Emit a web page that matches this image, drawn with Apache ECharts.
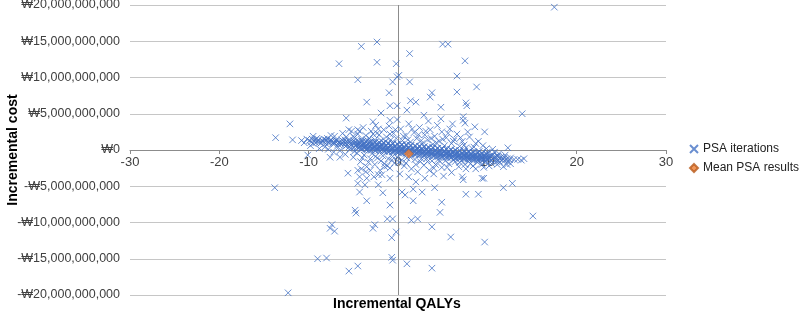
<!DOCTYPE html>
<html>
<head>
<meta charset="utf-8">
<script src="https://cdn.jsdelivr.net/npm/echarts@6/dist/echarts.min.js"></script>
<style>
html,body{margin:0;padding:0;background:#fff;}
#chart{width:800px;height:312px;}
</style>
</head>
<body>
<div id="chart"></div>
<script>
// Values: [incremental QALYs, incremental cost in billions of won]
var seriesNames = ['PSA iterations', 'Mean PSA results'];
var xTicks = [-30, -20, -10, 0, 10, 20, 30];
var yTicksBillion = [-20, -15, -10, -5, 0, 5, 10, 15, 20];

var outliersTop = [
  [-4.1,14.3],[-2.35,14.9],[-6.6,11.9],[-2.35,12.1],[-0.2,11.9],[-4.5,9.7],[-0.6,9.4],[-0.1,10.1],
  [-1.0,7.9],[-3.5,6.6],[-0.9,6.1],[-0.1,6.1],[-1.9,5.1],[-5.8,4.4],[-12.1,3.6],[-13.7,1.7],
  [-11.8,1.4],[-5.5,2.8],[-4.5,2.8],[-2.8,3.9],[-0.9,4.1],[-2.35,2.3],[-7.1,1.9],
  [17.5,19.7],[5.0,14.6],[5.6,14.6],[1.3,13.3],[7.5,12.3],[0.1,10.3],[1.3,9.4],[6.6,10.2],
  [6.6,8.0],[8.8,8.7],[3.8,7.9],[3.6,7.3],[7.6,6.5],[7.7,6.1],[1.4,6.8],[2.0,6.6],[4.8,5.9],
  [13.9,5.0],[7.3,4.6],[7.3,4.1],[7.5,3.7],[8.6,3.2],[9.7,2.5],[12.3,0.3]
];
var outliersBottom = [
  [-13.8,-5.2],[-5.6,-3.2],[-3.5,-7.0],[-4.8,-8.3],[-4.7,-8.7],[-0.9,-7.6],[-7.4,-10.3],
  [-7.6,-10.8],[-7.1,-11.2],[-2.6,-10.3],[-2.8,-10.8],[-1.2,-9.5],[-0.6,-9.5],[-0.2,-11.3],
  [-0.7,-12.1],[-9.0,-15.0],[-8.0,-14.9],[-5.5,-16.7],[-4.5,-16.0],[-0.7,-14.8],[-0.6,-15.2],
  [-12.3,-19.7],
  [0.45,-5.8],[0.8,-6.2],[1.7,-5.4],[1.7,-7.0],[2.7,-5.8],[4.1,-5.2],[4.9,-7.2],[4.7,-8.6],
  [1.5,-9.7],[2.2,-9.5],[3.8,-10.6],[5.9,-12.0],[9.7,-12.7],[7.6,-6.1],[9.0,-6.1],[11.8,-5.2],
  [12.8,-4.6],[15.1,-9.1],[1.0,-15.7],[3.8,-16.3],[9.4,-3.9],[9.6,-3.9],[7.2,-3.7],[7.3,-4.1],
  [-4.5,-2.8],[-3.1,-2.8],[-4.3,-3.7],[-3.5,-3.9],[-4.5,-4.6],[-3.7,-4.8],[-4.3,-5.8],
  [-2.2,-4.8],[-1.7,-5.9],[-0.9,-3.9],[-2.2,-3.4],[-1.5,-2.3],[-7.6,-1.0],[-10.1,-0.7],[-6.5,-1.0]
];
var bandCore = [
  [-10.8,1.3],[-10.2,1.5],[-9.7,1.1],[-9.3,1.4],[-9.0,1.2],[-8.6,1.0],[-8.3,1.5],[-8.0,1.3],
  [-7.7,1.1],[-7.4,1.2],[-7.1,0.9],[-6.9,1.4],[-6.6,1.1],[-6.4,0.8],[-6.1,1.2],[-5.9,1.0],
  [-5.7,0.7],[-5.5,1.3],[-5.3,0.9],[-5.1,1.1],
  [-4.8,1.1],[-4.7,0.7],[-4.6,0.4],[-4.3,1.0],[-4.2,0.6],[-4.4,0.3],[-3.8,0.9],[-3.9,0.6],[-3.7,0.3],
  [-3.3,1.0],[-3.2,0.6],[-3.4,0.2],[-2.8,0.9],[-2.7,0.5],[-2.9,0.2],[-2.3,0.8],[-2.2,0.5],[-2.4,0.1],
  [-1.8,0.8],[-1.9,0.4],[-1.7,0.1],[-1.3,0.7],[-1.2,0.3],[-1.4,0.0],[-0.8,0.7],[-0.7,0.3],[-0.9,-0.1],
  [-0.3,0.6],[-0.2,0.2],[-0.4,-0.1],[0.2,0.5],[0.3,0.1],[0.1,-0.2],[0.7,0.5],[0.6,0.1],[0.8,-0.3],
  [1.2,0.4],[1.3,0.0],[1.1,-0.3],[1.7,0.3],[1.8,-0.1],[1.6,-0.4],[2.2,0.3],[2.3,-0.1],[2.1,-0.4],
  [2.7,0.2],[2.6,-0.2],[2.8,-0.5],[3.2,0.2],[3.3,-0.2],[3.1,-0.5],[3.7,0.1],[3.6,-0.3],[3.8,-0.6],
  [4.2,0.0],[4.3,-0.3],[4.1,-0.7],[4.7,0.0],[4.6,-0.4],[4.8,-0.7],[5.2,-0.1],[5.3,-0.4],[5.1,-0.8],
  [5.7,-0.2],[5.6,-0.5],[5.8,-0.8],[6.2,-0.2],[6.3,-0.6],[6.1,-0.9],[6.7,-0.3],[6.6,-0.6],[6.8,-0.9],
  [7.2,-0.4],[7.3,-0.7],[7.1,-1.0],[7.7,-0.4],[7.6,-0.8],[7.8,-1.1],[8.2,-0.5],[8.3,-0.8],[8.1,-1.1],
  [8.7,-0.6],[8.6,-0.9],[8.8,-1.2],[9.2,-0.6],[9.3,-0.9],[9.1,-1.2],[9.7,-0.7],[9.8,-1.0],[9.6,-1.3],
  [10.3,-0.8],[10.2,-1.1],[10.4,-1.4],[10.9,-0.9],[11.0,-1.3],[11.5,-1.0],[11.6,-1.4],
  [12.2,-1.2],[12.3,-1.6],[13.0,-1.3],[13.4,-1.3],[13.8,-1.4],[14.1,-1.2]
];
var bandCore2 = [
  [-10.5,1.0],[-9.9,1.3],[-9.5,0.9],[-9.1,1.6],[-8.8,1.1],[-8.5,1.3],[-8.1,0.9],[-7.9,1.6],
  [-7.5,1.4],[-7.3,0.9],[-7.0,1.2],[-6.7,0.8],[-6.3,1.4],[-6.0,0.7],
  [-5.95,1.4],[-5.85,0.5],[-5.45,0.45],[-5.6,1.0],[-4.95,1.3],[-5.0,0.3],[-4.45,1.25],[-4.55,0.9],
  [-3.95,1.2],[-4.05,0.1],[-3.55,1.1],[-3.6,0.45],[-3.5,0.0],[-3.05,1.1],[-3.1,0.4],[-3.0,-0.05],
  [-2.55,1.05],[-2.6,0.35],[-2.5,-0.1],[-2.05,1.0],[-2.1,0.3],[-2.0,-0.15],[-1.55,0.95],[-1.6,0.25],
  [-1.5,-0.2],[-1.05,0.9],[-1.1,0.15],[-1.0,-0.25],[-0.55,0.85],[-0.6,0.1],[-0.5,-0.3],
  [-0.05,0.8],[0.0,0.05],[0.05,-0.35],[0.45,0.7],[0.4,-0.05],[0.5,-0.45],[0.95,0.65],[0.9,-0.1],
  [1.0,-0.5],[1.45,0.6],[1.4,-0.15],[1.5,-0.55],[1.95,0.55],[1.9,-0.25],[2.0,-0.6],[2.45,0.5],
  [2.4,-0.3],[2.5,-0.65],[2.95,0.45],[2.9,-0.35],[3.0,-0.7],[3.45,0.35],[3.4,-0.4],[3.5,-0.75],
  [3.95,0.3],[3.9,-0.45],[4.0,-0.85],[4.45,0.25],[4.4,-0.5],[4.5,-0.9],[4.95,0.2],[4.9,-0.55],
  [5.0,-0.95],[5.45,0.1],[5.4,-0.6],[5.5,-1.0],[5.95,0.05],[5.9,-0.7],[6.0,-1.05],[6.45,0.0],
  [6.4,-0.75],[6.5,-1.1],[6.95,-0.1],[6.9,-0.8],[7.0,-1.15],[7.45,-0.15],[7.4,-0.85],[7.5,-1.2],
  [7.95,-0.2],[7.9,-0.95],[8.0,-1.25],[8.45,-0.3],[8.4,-1.0],[8.5,-1.3],[8.95,-0.35],[8.9,-1.05],
  [9.0,-1.4],[9.45,-0.45],[9.4,-1.1],[9.5,-1.45],[9.95,-0.55],[10.0,-1.2],[10.6,-0.7],[10.65,-1.25],
  [11.2,-0.85],[11.25,-1.5],[11.9,-1.0],[11.95,-1.45],[12.6,-1.1]
];
var bandCore3 = [
  [-9.6,1.5],[-9.2,1.0],[-8.9,1.4],[-8.4,1.2],[-8.1,1.4],[-7.8,1.0],[-7.6,1.3],[-7.2,1.1],
  [-6.8,1.2],[-6.5,1.0],[-6.2,0.9],[-5.8,1.2],[-5.4,1.1],[-5.2,0.7],
  [-4.85,0.95],[-4.75,0.55],[-4.35,0.85],[-4.25,0.45],[-3.85,0.8],[-3.75,0.45],[-3.35,0.8],[-3.25,0.4],
  [-2.85,0.7],[-2.75,0.35],[-2.35,0.65],[-2.25,0.3],[-1.85,0.6],[-1.75,0.25],[-1.35,0.55],[-1.25,0.15],
  [-0.85,0.5],[-0.75,0.1],[-0.35,0.45],[-0.25,0.0],[0.15,0.35],[0.25,-0.05],[0.65,0.3],[0.75,-0.1],
  [1.15,0.25],[1.25,-0.15],[1.65,0.15],[1.75,-0.2],[2.15,0.1],[2.25,-0.25],[2.65,0.05],[2.75,-0.3],
  [3.15,0.0],[3.25,-0.35],[3.65,-0.1],[3.75,-0.4],[4.15,-0.15],[4.25,-0.5],[4.65,-0.2],[4.75,-0.55],
  [5.15,-0.25],[5.25,-0.6],[5.65,-0.35],[5.75,-0.65],[6.15,-0.4],[6.25,-0.7],[6.65,-0.45],[6.75,-0.75],
  [7.15,-0.5],[7.25,-0.85],[7.65,-0.6],[7.75,-0.9],[8.15,-0.65],[8.25,-0.95],[8.65,-0.7],[8.75,-1.0],
  [9.15,-0.75],[9.25,-1.05],[9.65,-0.85],[9.75,-1.1],[10.15,-0.9],[10.25,-1.2],[10.75,-1.05],
  [11.35,-1.15],[11.8,-1.25],[12.5,-1.35]
];
var bandCore4 = [
  [-4.1,1.25],[-4.15,0.2],[-3.6,1.2],[-3.65,0.1],[-3.1,1.15],[-3.15,0.05],[-2.6,1.1],[-2.65,0.0],
  [-2.1,1.05],[-2.15,-0.05],[-1.6,1.0],[-1.65,-0.1],[-1.1,0.95],[-1.15,-0.2],[-0.6,0.9],[-0.65,-0.25],
  [-0.1,0.85],[-0.15,-0.3],[0.4,0.75],[0.35,-0.4],[0.9,0.7],[0.85,-0.45],[1.4,0.65],[1.35,-0.5],
  [1.9,0.6],[1.85,-0.6],[2.4,0.5],[2.35,-0.65],[2.9,0.45],[2.85,-0.7],[3.4,0.4],[3.35,-0.75],
  [3.9,0.3],[3.85,-0.8],[4.4,0.25],[4.35,-0.9],[4.9,0.15],[4.85,-0.95],[5.4,0.1],[5.35,-1.0],
  [5.9,0.05],[5.85,-1.05],[6.4,-0.05],[6.35,-1.1],[6.9,-0.1],[6.85,-1.15],[7.4,-0.2],[7.35,-1.2],
  [7.9,-0.25],[7.85,-1.25],[8.4,-0.35],[8.35,-1.3],[8.9,-0.4],[8.85,-1.35],[9.4,-0.5],[9.35,-1.4],
  [9.9,-0.6],[9.85,-1.45],[10.5,-0.75],[10.45,-1.5],[11.1,-0.85],[11.05,-1.6],
  [-4.1,0.7],[-3.6,0.65],[-3.1,0.55],[-2.6,0.5],[-2.1,0.45],[-1.6,0.4],[-1.1,0.35],[-0.6,0.25],
  [-0.1,0.2],[0.4,0.15],[0.9,0.1],[1.4,0.0],[1.9,-0.05],[2.4,-0.1],[2.9,-0.15],[3.4,-0.2],
  [3.9,-0.3],[4.4,-0.35],[4.9,-0.4],[5.4,-0.45],[5.9,-0.5],[6.4,-0.55],[6.9,-0.65],[7.4,-0.7],
  [7.9,-0.75],[8.4,-0.8],[8.9,-0.85],[9.4,-0.95],[9.9,-1.0]
];
var scatterAbove = [
  [-9.5,1.9],[-8.2,0.4],[-7.5,2.0],[-6.8,0.5],[-6.2,2.3],[-5.8,1.8],[-5.2,2.6],[-4.9,1.7],
  [-4.5,2.2],[-4.1,1.5],[-3.9,3.1],[-3.6,2.0],[-3.2,1.6],[-3.0,2.6],[-2.6,1.4],[-2.5,3.4],
  [-2.1,2.1],[-1.9,1.3],[-1.6,2.8],[-1.3,1.8],[-1.0,3.3],[-0.8,1.4],[-0.5,2.3],[-0.2,1.6],[-0.1,4.2],
  [0.3,2.9],[0.5,1.3],[0.9,2.0],[1.2,3.6],[1.4,1.1],[1.8,2.4],[2.1,1.6],[2.4,3.1],[2.7,0.9],
  [3.0,2.1],[3.3,1.4],[3.6,2.8],[3.9,0.8],[4.1,1.9],[4.4,3.4],[4.6,1.2],[4.9,2.5],[5.2,0.6],
  [5.4,1.7],[5.8,2.9],[6.0,0.9],[6.3,1.5],[6.6,2.2],[6.9,0.5],[7.2,1.2],[7.6,0.3],[8.0,1.8],
  [8.3,0.2],[8.7,0.9],[9.1,-0.2],[9.5,0.6],[10.0,-0.3],[10.6,0.1],[11.3,-0.5],[12.0,-0.7],
  [4.8,4.3],[2.9,4.8],[6.1,3.6],[1.0,5.5],[3.4,4.0],
  [-5.0,1.9],[-4.3,2.6],[-3.4,1.3],[-2.8,2.2],[-2.2,2.9],[-1.4,1.2],[-0.9,2.2],[-0.3,2.8],
  [0.6,1.9],[1.1,1.4],[1.6,2.9],[2.3,2.1],[2.6,1.3],[3.1,2.6],[3.7,1.6],[4.3,1.0],[5.0,1.5],
  [5.6,2.3],[6.2,1.2],[7.0,1.7],[7.4,0.7],[7.8,2.5],[8.5,0.4],[9.0,1.2],[9.9,0.2],[10.8,-0.3]
];
var scatterBelow = [
  [-9.8,0.6],[-8.8,0.2],[-7.8,0.1],[-7.2,-0.3],[-6.5,-0.1],[-5.9,-0.6],[-5.4,0.1],[-5.0,-1.0],
  [-4.6,-0.4],[-4.2,-1.6],[-3.8,-0.7],[-3.5,-2.3],[-3.1,-1.2],[-2.9,-0.5],[-2.6,-2.0],[-2.3,-1.1],
  [-2.0,-2.8],[-1.7,-0.8],[-1.5,-1.9],[-1.1,-1.2],[-0.9,-2.5],[-0.6,-0.9],[-0.4,-1.8],[-0.1,-1.0],
  [-3.6,-3.0],[-4.1,-2.6],[-1.8,-3.4],[-2.7,-3.7],
  [0.4,-1.4],[0.7,-2.2],[1.0,-1.1],[1.5,-2.6],[1.9,-1.3],[2.2,-3.0],[2.5,-1.6],[2.9,-2.1],
  [3.2,-1.2],[3.5,-2.8],[3.8,-1.5],[4.2,-2.0],[4.5,-1.3],[4.9,-2.4],[5.3,-1.5],[5.7,-1.9],
  [6.0,-3.1],[6.4,-1.6],[6.8,-2.3],[7.1,-1.5],[7.5,-2.0],[7.9,-1.6],[8.4,-2.2],[8.9,-1.7],
  [9.4,-2.0],[9.8,-1.6],[10.5,-1.9],[11.1,-2.0],[11.8,-2.3],[12.6,-1.9],[1.2,-3.7],[3.0,-3.9],
  [0.2,-3.3],[5.1,-3.6],[2.0,-4.4],[4.0,-3.3],
  [-4.9,-0.2],[-4.0,-1.1],[-3.3,-1.7],[-2.5,-0.9],[-1.9,-1.5],[-1.2,-2.2],[-0.7,-1.4],[0.1,-1.7],
  [0.9,-1.8],[1.4,-1.0],[2.0,-2.0],[2.6,-1.2],[3.3,-1.6],[4.0,-2.5],[4.7,-1.6],[5.5,-2.4],
  [6.2,-1.4],[6.9,-1.7],[7.6,-2.6],[8.1,-1.9],[8.7,-2.6],[9.6,-2.4],[10.2,-2.2],[11.4,-1.7],[12.2,-2.0]
];
var meanResult = [[1.2,-0.5]];

var psaPoints = outliersTop.concat(outliersBottom, bandCore, bandCore2, bandCore3, bandCore4, scatterAbove, scatterBelow);

function wonLabel(v) {
  if (v === 0) return '\u20A90';
  var s = Math.round(Math.abs(v) * 1e9).toLocaleString('en-US');
  return (v < 0 ? '-' : '') + '\u20A9' + s;
}

var FONT = "'Liberation Sans', Arial, sans-serif";
var GRID_TOP = 5, GRID_BOTTOM = 17, H = 312;
var chart = echarts.init(document.getElementById('chart'), null, {renderer: 'canvas'});
chart.setOption({
  animation: false,
  backgroundColor: '#ffffff',
  textStyle: {fontFamily: FONT},
  grid: {left: 130, right: 134, top: GRID_TOP, bottom: GRID_BOTTOM, containLabel: false, outerBoundsMode: 'none'},
  xAxis: {
    type: 'value',
    min: xTicks[0], max: xTicks[xTicks.length - 1], interval: 10,
    offset: -(H - GRID_TOP - GRID_BOTTOM) / 2,
    axisLine: {show: true, onZero: false, lineStyle: {color: '#8c8c8c', width: 1}},
    axisTick: {show: true, length: 4, lineStyle: {color: '#8c8c8c'}},
    axisLabel: {color: '#404040', fontSize: 13, margin: 6, fontFamily: FONT},
    splitLine: {show: false}
  },
  yAxis: {
    type: 'value',
    min: yTicksBillion[0], max: yTicksBillion[yTicksBillion.length - 1], interval: 5,
    name: 'Incremental cost',
    nameLocation: 'middle',
    nameGap: 110,
    nameMoveOverlap: false,
    nameTextStyle: {fontWeight: 'bold', fontSize: 14, color: '#000', fontFamily: FONT},
    axisLine: {show: false, onZero: false},
    axisTick: {show: false},
    axisLabel: {color: '#404040', fontSize: 12.5, margin: 10, formatter: wonLabel, fontFamily: FONT},
    splitLine: {show: true, lineStyle: {color: '#c6c6c6', width: 1}}
  },
  legend: {
    orient: 'vertical',
    left: 689, top: 143, padding: 0,
    itemWidth: 8, itemHeight: 8, itemGap: 7,
    textStyle: {fontSize: 12, color: '#222', fontFamily: FONT},
    data: seriesNames
  },
  graphic: [{
    type: 'text', left: 333, top: 297,
    style: {text: 'Incremental QALYs', font: 'bold 14px ' + FONT, fill: '#000'}
  }],
  series: [
    {
      name: seriesNames[0],
      type: 'scatter',
      data: psaPoints,
      symbol: 'path://M0,0L10,10M10,0L0,10',
      symbolSize: 6.5,
      itemStyle: {color: 'rgba(0,0,0,0)', borderColor: '#4472c4', borderWidth: 1, opacity: 0.8},
      z: 3,
      markLine: {
        silent: true, symbol: ['none', 'none'],
        label: {show: false},
        lineStyle: {color: '#8c8c8c', type: 'solid', width: 1},
        data: [{xAxis: 0}],
        z: 1
      }
    },
    {
      name: seriesNames[1],
      type: 'scatter',
      data: meanResult,
      symbol: 'diamond',
      symbolSize: 9,
      itemStyle: {color: '#ed7d31', borderColor: '#b85a1c', borderWidth: 0.6},
      z: 5
    }
  ]
});
</script>
</body>
</html>
